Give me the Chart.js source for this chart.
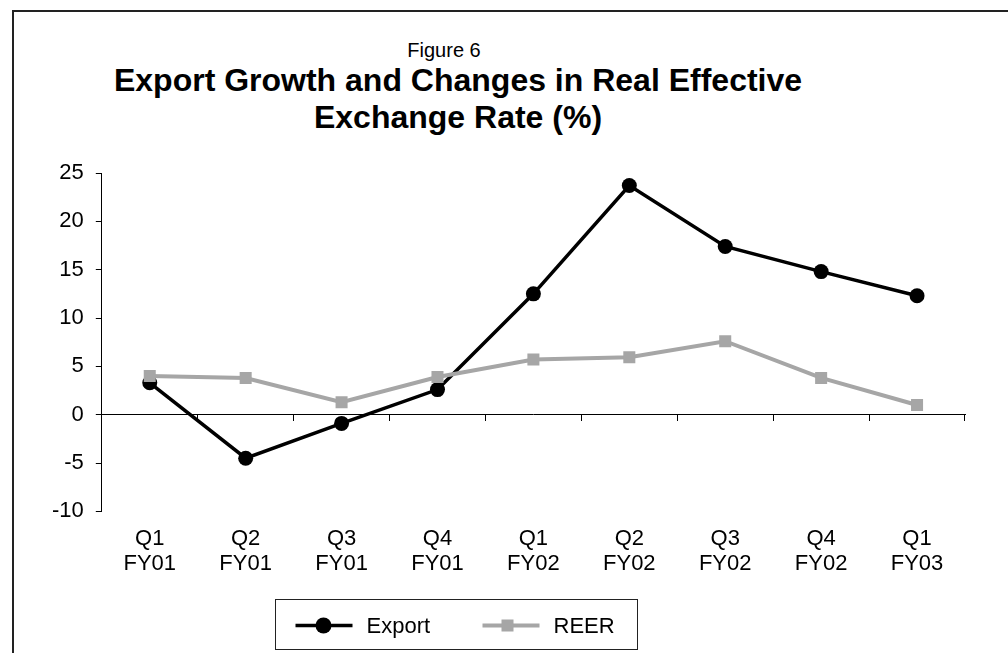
<!DOCTYPE html>
<html>
<head>
<meta charset="utf-8">
<title>Figure 6</title>
<script src="https://cdn.jsdelivr.net/npm/chart.js@4.4.1/dist/chart.umd.min.js"></script>
<style>
  html, body { margin: 0; padding: 0; background: #fff; overflow: hidden; }
  #wrap { position: relative; width: 1008px; height: 653px; overflow: hidden; }
  #frame {
    position: absolute; left: 12px; top: 10px; width: 1100px; height: 800px;
    border-top: 2px solid #222; border-left: 2px solid #222;
  }
  .ttl {
    position: absolute; left: 0; width: 916px; text-align: center;
    font-family: "Liberation Sans", Arial, sans-serif; color: #000; line-height: 1; white-space: nowrap;
  }
  #fig { top: 40px; width: 888px; font-size: 20px; }
  #t1 { top: 64px; font-size: 32px; font-weight: bold; }
  #t2 { top: 101px; font-size: 32px; font-weight: bold; }
  canvas { position: absolute; left: 0; top: 0; }
</style>
</head>
<body>
<div id="wrap">
  <div id="frame"></div>
  <div class="ttl" id="fig">Figure 6</div>
  <div class="ttl" id="t1">Export Growth and Changes in Real Effective</div>
  <div class="ttl" id="t2">Exchange Rate (%)</div>
  <canvas id="chartCanvas" width="1008" height="653"></canvas>
</div>
<script>
// quarters on the x axis
const quarterLabels = [
  ["Q1", "FY01"], ["Q2", "FY01"], ["Q3", "FY01"], ["Q4", "FY01"],
  ["Q1", "FY02"], ["Q2", "FY02"], ["Q3", "FY02"], ["Q4", "FY02"],
  ["Q1", "FY03"]
];
// growth rates, %
const exportGrowth = [3.3, -4.5, -0.9, 2.6, 12.5, 23.7, 17.4, 14.8, 12.3];
const reerChange = [4.0, 3.8, 1.3, 3.9, 5.7, 5.95, 7.6, 3.8, 1.0];
// y axis range
const yMin = -10;
const yMax = 25;
const yStep = 5;

const FONT = '"Liberation Sans", Arial, sans-serif';
Chart.defaults.font.family = FONT;
Chart.defaults.color = "#000";

// legend in a box under the plot, line + marker like the original
const boxLegend = {
  id: "boxLegend",
  afterDraw(chart) {
    const ctx = chart.ctx;
    const boxW = 362, boxH = 50;
    const boxX = 275.5;
    const boxY = 599.5;
    ctx.save();
    ctx.strokeStyle = "#222";
    ctx.lineWidth = 1;
    ctx.strokeRect(boxX, boxY, boxW, boxH);
    ctx.font = "22px " + FONT;
    ctx.textBaseline = "middle";
    const cy = boxY + 26;
    const slots = [boxX + 20, boxX + 207];
    chart.data.datasets.forEach((ds, i) => {
      const x0 = slots[i];
      ctx.strokeStyle = ds.borderColor;
      ctx.lineWidth = ds.borderWidth;
      ctx.beginPath();
      ctx.moveTo(x0, cy);
      ctx.lineTo(x0 + 57, cy);
      ctx.stroke();
      ctx.fillStyle = ds.pointBackgroundColor;
      if (ds.pointStyle === "circle") {
        ctx.beginPath();
        ctx.arc(x0 + 28, cy, 8, 0, Math.PI * 2);
        ctx.fill();
      } else {
        ctx.fillRect(x0 + 25 - 6, cy - 6, 12, 12);
      }
      ctx.fillStyle = "#000";
      ctx.fillText(ds.label, x0 + 71, cy + 1);
    });
    ctx.restore();
  }
};

new Chart(document.getElementById("chartCanvas"), {
  type: "line",
  data: {
    labels: quarterLabels,
    datasets: [
      {
        label: "Export",
        data: exportGrowth,
        borderColor: "#000",
        backgroundColor: "#000",
        borderWidth: 3.5,
        pointStyle: "circle",
        pointRadius: 7.5,
        pointBackgroundColor: "#000",
        pointBorderColor: "#000",
        pointBorderWidth: 0,
        tension: 0,
        order: 2
      },
      {
        label: "REER",
        data: reerChange,
        borderColor: "#a6a6a6",
        backgroundColor: "#a6a6a6",
        borderWidth: 4,
        pointStyle: "rect",
        pointRadius: 8.5,
        pointBackgroundColor: "#a6a6a6",
        pointBorderColor: "#a6a6a6",
        pointBorderWidth: 0,
        tension: 0,
        order: 1
      }
    ]
  },
  options: {
    responsive: false,
    animation: false,
    events: [],
    layout: { padding: { left: 40, right: 43, top: 173, bottom: 69 } },
    plugins: {
      legend: { display: false },
      title: { display: false },
      tooltip: { enabled: false }
    },
    scales: {
      x: {
        type: "category",
        position: "bottom",
        offset: true,
        grid: { display: false },
        border: { display: false },
        ticks: {
          color: "#000",
          font: { size: 22, lineHeight: 1.15 },
          padding: 7,
          maxRotation: 0,
          autoSkip: false
        }
      },
      xZero: {
        type: "category",
        position: { y: 0 },
        offset: true,
        grid: {
          display: true,
          drawOnChartArea: false,
          offset: true,
          color: "#000",
          tickLength: 6,
          lineWidth: 1
        },
        border: { display: true, color: "#000", width: 1 },
        ticks: { display: false }
      },
      y: {
        min: yMin,
        max: yMax,
        grid: {
          display: true,
          drawOnChartArea: false,
          color: "#000",
          tickLength: 6
        },
        border: { display: true, color: "#000", width: 1 },
        ticks: {
          stepSize: yStep,
          color: "#000",
          font: { size: 22 },
          padding: 12
        }
      }
    }
  },
  plugins: [boxLegend]
});
</script>
</body>
</html>
